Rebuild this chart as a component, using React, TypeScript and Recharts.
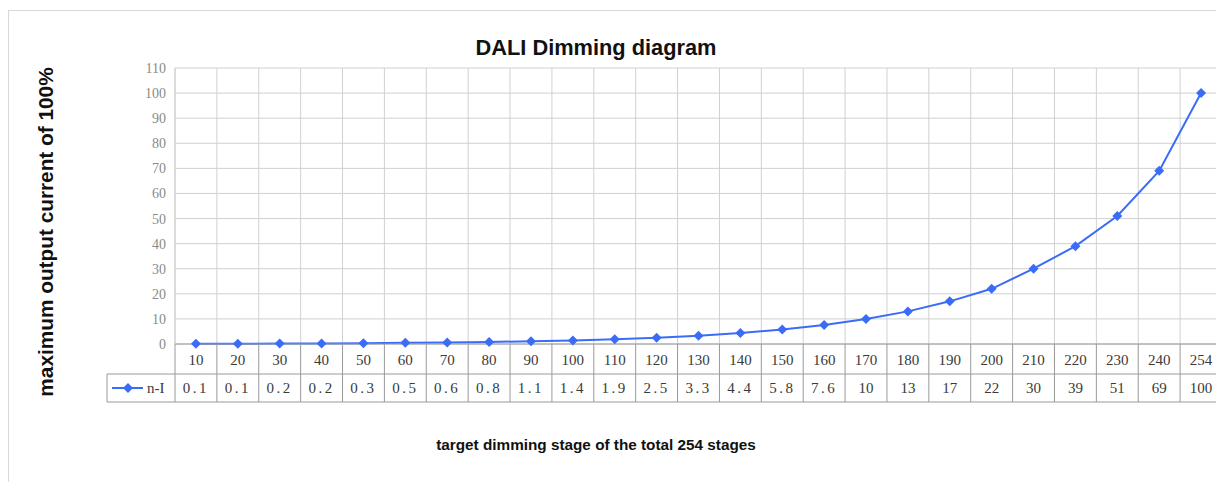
import React from 'react';
import { LineChart, Line, XAxis, YAxis, CartesianGrid } from 'recharts';

// ---- data ----
const stages = ['10', '20', '30', '40', '50', '60', '70', '80', '90', '100', '110', '120', '130', '140', '150', '160', '170', '180', '190', '200', '210', '220', '230', '240', '254'];
const currents = [0.1, 0.1, 0.2, 0.2, 0.3, 0.5, 0.6, 0.8, 1.1, 1.4, 1.9, 2.5, 3.3, 4.4, 5.8, 7.6, 10, 13, 17, 22, 30, 39, 51, 69, 100];
const yTicks = [0, 10, 20, 30, 40, 50, 60, 70, 80, 90, 100, 110];
const seriesName = 'n-I';
const titleText = 'DALI Dimming diagram';
const yTitle = 'maximum output current of 100%';
const xTitle = 'target dimming stage of the total 254 stages';

const data = stages.map((s, i) => ({ stage: s, value: currents[i] }));

// ---- layout ----
const CHART_W = 1240;
const CHART_H = 466;
const MARGIN = { top: 60, right: 26, left: 107, bottom: 72 };
const Y_AXIS_W = 60;
const PLOT_LEFT = MARGIN.left + Y_AXIS_W;
const PLOT_W = CHART_W - MARGIN.left - MARGIN.right - Y_AXIS_W;
const CELL_W = PLOT_W / stages.length;
const ROW1_H = 30;
const ROW2_H = 28;
const LEGEND_W = 68;

const LINE_COLOR = '#3b6cf6';
const GRID_COLOR = '#d0d0d0';
const TABLE_LINE = '#9a9a9a';
const TABLE_TEXT = '#3a3a3a';
const SERIF = '"Liberation Serif", "DejaVu Serif", serif';
const SANS = '"Liberation Sans", Arial, sans-serif';

const diamond = (cx: number, cy: number, r: number) =>
  `M${cx},${cy - r}L${cx + r},${cy}L${cx},${cy + r}L${cx - r},${cy}Z`;

const TableTick = (props: any) => {
  const { x, y, payload } = props;
  const idx = stages.indexOf(String(payload.value));
  const left = x - CELL_W / 2;
  const right = x + CELL_W / 2;
  const val = currents[idx];
  const bottom = y + ROW1_H + ROW2_H;
  return (
    <g>
      <line x1={left} y1={y} x2={left} y2={bottom} stroke={TABLE_LINE} strokeWidth={1} />
      {idx === stages.length - 1 && (
        <line x1={right} y1={y} x2={right} y2={bottom} stroke={TABLE_LINE} strokeWidth={1} />
      )}
      <line x1={left} y1={y + ROW1_H} x2={right} y2={y + ROW1_H} stroke={TABLE_LINE} strokeWidth={1} />
      <line x1={left} y1={bottom} x2={right} y2={bottom} stroke={TABLE_LINE} strokeWidth={1} />
      <text x={x} y={y + ROW1_H / 2 + 1} textAnchor="middle" dominantBaseline="central"
        fontFamily={SERIF} fontSize={15} fill={TABLE_TEXT}>{payload.value}</text>
      <text x={x} y={y + ROW1_H + ROW2_H / 2} textAnchor="middle" dominantBaseline="central"
        fontFamily={SERIF} fontSize={15} fill={TABLE_TEXT} letterSpacing={val < 10 ? 2.5 : 0}>{String(val)}</text>
      {idx === 0 && (
        <g>
          <line x1={left - LEGEND_W} y1={y + ROW1_H} x2={left} y2={y + ROW1_H} stroke={TABLE_LINE} strokeWidth={1} />
          <line x1={left - LEGEND_W} y1={bottom} x2={left} y2={bottom} stroke={TABLE_LINE} strokeWidth={1} />
          <line x1={left - LEGEND_W} y1={y + ROW1_H} x2={left - LEGEND_W} y2={bottom} stroke={TABLE_LINE} strokeWidth={1} />
          <line x1={left - LEGEND_W + 5} y1={y + ROW1_H + ROW2_H / 2} x2={left - LEGEND_W + 36} y2={y + ROW1_H + ROW2_H / 2}
            stroke={LINE_COLOR} strokeWidth={2} />
          <path d={diamond(left - LEGEND_W + 21, y + ROW1_H + ROW2_H / 2, 5)} fill={LINE_COLOR} />
          <text x={left - LEGEND_W + 40} y={y + ROW1_H + ROW2_H / 2} dominantBaseline="central"
            fontFamily={SERIF} fontSize={15} fill={TABLE_TEXT}>{seriesName}</text>
        </g>
      )}
    </g>
  );
};

const DiamondDot = (props: any) => {
  const { cx, cy, index } = props;
  if (cx == null || cy == null) return <g key={`d-${index}`} />;
  return <path key={`d-${index}`} d={diamond(cx, cy, 5)} fill={LINE_COLOR} />;
};

export default function App() {
  const vCoords = Array.from({ length: stages.length + 1 }, (_, i) => PLOT_LEFT + i * CELL_W);
  return (
    <div style={{ position: 'absolute', left: 8, top: 8, width: 1208, height: 474, overflow: 'hidden' }}>
      <style>{'html,body{overflow:hidden;}'}</style>
      <div style={{ position: 'absolute', left: 0, top: 2, width: 1400, height: 700, border: '1px solid #d9d9d9', boxSizing: 'border-box' }} />
      <div style={{ position: 'absolute', left: 0, top: 0 }}>
        <LineChart width={CHART_W} height={CHART_H} data={data} margin={MARGIN}>
          <CartesianGrid stroke={GRID_COLOR} strokeWidth={1} verticalCoordinatesGenerator={() => vCoords} />
          <XAxis dataKey="stage" type="category" scale="band" interval={0} height={ROW1_H + ROW2_H}
            tickSize={0} tickMargin={0} tickLine={false}
            axisLine={{ stroke: TABLE_LINE, strokeWidth: 1 }} tick={<TableTick />} />
          <YAxis width={Y_AXIS_W} domain={[0, 110]} ticks={yTicks} interval={0} tickLine={false}
            tickMargin={3} axisLine={{ stroke: GRID_COLOR }}
            tick={{ fill: '#8a8a8a', fontSize: 14, fontFamily: SERIF }} />
          <Line type="linear" dataKey="value" name={seriesName} stroke={LINE_COLOR} strokeWidth={2}
            dot={<DiamondDot />} activeDot={false} isAnimationActive={false} />
          <text x={588} y={39} textAnchor="middle" dominantBaseline="central" fontFamily={SANS}
            fontWeight="bold" fontSize={21.8} fill="#111">{titleText}</text>
          <text x={37} y={224} transform="rotate(-90 37 224)" textAnchor="middle" dominantBaseline="central"
            fontFamily={SANS} fontWeight="bold" fontSize={20.8} fill="#111">{yTitle}</text>
          <text x={588} y={436} textAnchor="middle" dominantBaseline="central" fontFamily={SANS}
            fontWeight="bold" fontSize={15.3} fill="#111">{xTitle}</text>
        </LineChart>
      </div>
    </div>
  );
}
